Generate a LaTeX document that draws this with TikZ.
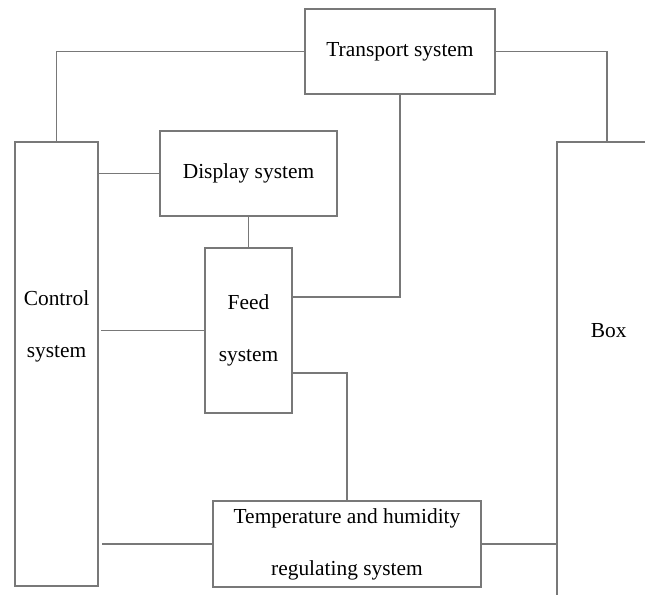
\documentclass[tikz,border=0pt]{standalone}
\usepackage{fontspec}
\setmainfont{Liberation Serif}
\usepackage{xcolor}
\usepackage{tikz}
\definecolor{linegray}{RGB}{120,120,120}

\begin{document}
\begin{tikzpicture}[x=0.5pt,y=-0.5pt,
	blk/.style={draw=linegray,line width=0.8pt,inner sep=0pt,align=center,
		font=\fontsize{10.7}{26}\selectfont},
	wire/.style={draw=linegray,line width=0.85pt}]
			\useasboundingbox (0,0) rectangle (645,595);
			\clip (0,0) rectangle (645,595);
			% Khối
			\node[blk,minimum width=95pt,minimum height=42.5pt] (transport) at (400,51.5) {Transport system};
			\node[blk,minimum width=41.5pt,minimum height=222pt,
				label={[yshift=19pt,align=center,font=\fontsize{10.7}{26}\selectfont]center:Control\\system}] (control) at (56.5,364) {};
			\node[blk,minimum width=88.5pt,minimum height=42.5pt] (display) at (248.5,173.5) {Display system};
			\node[blk,minimum width=43.5pt,minimum height=82.5pt] (feed) at (248.5,330.5) {Feed\\system};
			\node[blk,minimum width=134pt,minimum height=43pt] (temp) at (347,544) {Temperature and humidity\\regulating system};
			\node[blk,anchor=north west,minimum width=52pt,minimum height=250pt,
				label={[yshift=30.5pt,font=\fontsize{10.7}{26}\selectfont]center:Box}] (box) at (556,141) {};
			% Đường nối
			\draw[wire] (control.north) |- (transport.west);
			\draw[wire] (transport.east) -| ([xshift=-1pt]box.north);
			\draw[wire] (transport.south) |- ([yshift=16.75pt]feed.east);
			\draw[wire] (display.west) -- (display.west -| control.east);
			\draw[wire] (display.south) -- (feed.north);
			\draw[wire,shorten >=1pt] (feed.west) -- (feed.west -| control.east);
			\draw[wire] ([yshift=-21.25pt]feed.east) -| (temp.north);
			\draw[wire,shorten >=1.5pt] (temp.west) -- (temp.west -| control.east);
			\draw[wire] (temp.east) -- (temp.east -| box.west);
		\end{tikzpicture}
\end{document}
